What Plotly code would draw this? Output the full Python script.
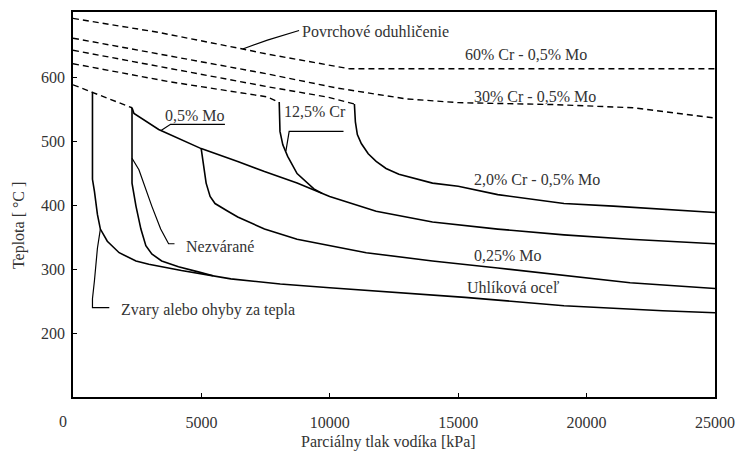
import plotly.graph_objects as go

# ---- data: pressure [kPa] vs temperature [°C] ----
# dashed (upper) boundaries
cr60_p = [0, 3340, 6610, 7570, 9110, 10770, 25000]
cr60_t = [693, 671, 645, 637, 626, 614, 614]

cr30_p = [0, 3720, 7570, 10265, 12960, 15000, 18730, 21810, 25000]
cr30_t = [662, 634, 606, 584, 567, 561, 558, 553, 537]

cr20_dash_p = [0, 3720, 7570, 9880, 10958]
cr20_dash_t = [643, 615, 586, 570, 559]

cr125_dash_p = [0, 3720, 7570, 7995]
cr125_dash_t = [622, 594, 570, 562]

mo05_dash_p = [0, 1028, 1913, 2298]
mo05_dash_t = [589, 573, 558, 553]

# solid curves
carbon_p = [758, 758, 835, 951, 1066, 1336, 1797, 2452, 2952, 4222, 6146, 8072,
            9995, 11805, 15265, 19120, 22965, 25000]
carbon_t = [578, 441, 422, 386, 363, 344, 326, 313, 308, 298, 285, 277,
            271, 266, 256, 243, 235, 232]

nonweld_p = [2298, 2298, 2452, 2644, 2837, 3068, 3453, 4107, 4876, 5454]
nonweld_t = [553, 435, 399, 363, 337, 324, 313, 304, 296, 290]

mo05_p = [2298, 2375, 3337, 4992, 6415, 7456, 8726, 9995, 11805, 13999, 16540,
          19120, 21694, 25000]
mo05_t = [553, 544, 519, 489, 469, 453, 435, 414, 391, 374, 363, 354, 347, 340]

cr125_p = [8030, 8060, 8170, 8360, 8726, 9380, 9700]
cr125_t = [562, 516, 495, 477, 450, 426, 419]

cr20_p = [10958, 10996, 11073, 11227, 11496, 11805, 12190, 12690, 13999, 15000,
          16540, 17850, 19120, 21040, 22965, 25000]
cr20_t = [559, 531, 511, 497, 481, 469, 458, 449, 435, 430, 417, 410, 403, 399,
          394, 389]

mo025_p = [4992, 5069, 5184, 5339, 5531, 6030, 6415, 7456, 8726, 11420, 13999,
           16540, 19120, 21694, 25000]
mo025_t = [489, 466, 435, 414, 403, 391, 382, 363, 347, 326, 313, 302, 290, 279, 270]

# label leader lines
weld_lead_p = [1066, 951, 835, 758, 758, 1413]
weld_lead_t = [363, 333, 282, 254, 240, 240]
nonweld_lead_p = [2298, 2567, 3068, 3414, 3722, 3953]
nonweld_lead_t = [474, 456, 399, 363, 340, 340]
mo05_lead_p = [3414, 3799, 5916]
mo05_lead_t = [517, 527, 527]
cr125_lead_p = [8290, 8418, 10534]
cr125_lead_t = [485, 516, 516]
decarb_lead_p = [6607, 7571, 8803]
decarb_lead_t = [645, 659, 674]

x_ticks = [5000, 10000, 15000, 20000, 25000]
y_ticks = [200, 300, 400, 500, 600]

FONT = "Liberation Serif"
TXT = "#333333"
FS = 16

fig = go.Figure()

dashed = [(cr60_p, cr60_t), (cr30_p, cr30_t), (cr20_dash_p, cr20_dash_t),
          (cr125_dash_p, cr125_dash_t), (mo05_dash_p, mo05_dash_t)]
for p, t in dashed:
    fig.add_trace(go.Scatter(x=p, y=t, mode="lines",
                             line=dict(color="black", width=1.4, dash="6px,4px"),
                             hoverinfo="skip", showlegend=False))

solid = [(carbon_p, carbon_t), (nonweld_p, nonweld_t), (mo05_p, mo05_t),
         (cr125_p, cr125_t), (cr20_p, cr20_t), (mo025_p, mo025_t)]
for p, t in solid:
    fig.add_trace(go.Scatter(x=p, y=t, mode="lines",
                             line=dict(color="black", width=1.6),
                             hoverinfo="skip", showlegend=False))

leaders = [(weld_lead_p, weld_lead_t), (nonweld_lead_p, nonweld_lead_t),
           (mo05_lead_p, mo05_lead_t), (cr125_lead_p, cr125_lead_t),
           (decarb_lead_p, decarb_lead_t)]
for p, t in leaders:
    fig.add_trace(go.Scatter(x=p, y=t, mode="lines",
                             line=dict(color="black", width=1.2),
                             hoverinfo="skip", showlegend=False))

labels = [
    ("Povrchové oduhličenie", 8841, 673, "left"),
    ("60% Cr - 0,5% Mo", 15200, 636, "left"),
    ("30% Cr - 0,5% Mo", 15550, 570, "left"),
    ("2,0% Cr - 0,5% Mo", 15540, 440, "left"),
    ("0,25% Mo", 15540, 322, "left"),
    ("Uhlíková oceľ", 15270, 272, "left"),
    ("Nezvárané", 4340, 335, "left"),
    ("Zvary alebo ohyby za tepla", 1800, 236, "left"),
    ("0,5% Mo", 4760, 541, "center"),
    ("12,5% Cr", 9430, 547, "center"),
]
for txt, x, y, xa in labels:
    fig.add_annotation(x=x, y=y, xref="x", yref="y", text=txt, showarrow=False,
                       xanchor=xa, yanchor="middle",
                       font=dict(family=FONT, size=FS, color=TXT))

# "0" tick label (offset left of the corner, as in the reference)
fig.add_annotation(x=-0.016, y=-0.064, xref="paper", yref="paper", text="0",
                   showarrow=False, xanchor="center", yanchor="middle",
                   font=dict(family=FONT, size=FS, color=TXT))
# axis titles
fig.add_annotation(x=0.492, y=-0.117, xref="paper", yref="paper",
                   text="Parciálny tlak vodíka [kPa]", showarrow=False,
                   xanchor="center", yanchor="middle",
                   font=dict(family=FONT, size=FS, color=TXT))
fig.add_annotation(x=-0.085, y=0.445, xref="paper", yref="paper",
                   text="Teplota [ °C ]", showarrow=False, textangle=-90,
                   xanchor="center", yanchor="middle",
                   font=dict(family=FONT, size=FS, color=TXT))

fig.update_xaxes(range=[0, 25000], tickvals=x_ticks,
                 ticktext=[str(v) for v in x_ticks],
                 showgrid=False, zeroline=False, showline=True, mirror=True,
                 linecolor="black", linewidth=1.5, ticks="inside", ticklen=4,
                 tickcolor="black", ticklabelstandoff=10,
                 tickfont=dict(family=FONT, size=FS, color=TXT))
fig.update_yaxes(range=[100, 703], tickvals=y_ticks,
                 ticktext=[str(v) for v in y_ticks],
                 showgrid=False, zeroline=False, showline=True, mirror=True,
                 linecolor="black", linewidth=1.5, ticks="inside", ticklen=4,
                 tickcolor="black", ticklabelstandoff=3,
                 tickfont=dict(family=FONT, size=FS, color=TXT))

fig.update_layout(width=745, height=459,
                  margin=dict(l=73, r=22, t=10, b=62),
                  plot_bgcolor="white", paper_bgcolor="white",
                  showlegend=False)

fig.write_html("out.html")
